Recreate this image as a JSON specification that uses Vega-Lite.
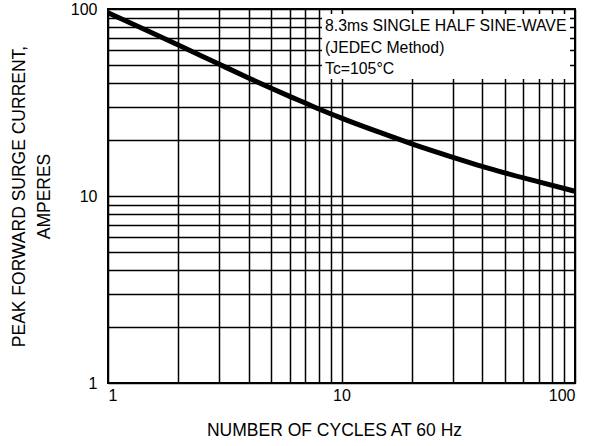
{
  "$schema": "https://vega.github.io/schema/vega-lite/v6.json",
  "width": 467,
  "height": 374,
  "autosize": {"type": "none"},
  "padding": {"left": 108, "top": 9, "right": 24, "bottom": 63},
  "background": "white",
  "config": {
    "view": {"stroke": "black", "strokeWidth": 2},
    "font": "Liberation Sans",
    "axis": {
      "grid": true,
      "gridColor": "black",
      "gridWidth": 1.5,
      "gridOpacity": 1,
      "ticks": false,
      "domain": false,
      "labelFont": "Liberation Sans",
      "labelFontSize": 16,
      "labelColor": "black",
      "titleFont": "Liberation Sans",
      "titleFontSize": 17.5,
      "titleFontWeight": "normal",
      "titleColor": "black",
      "labelOverlap": false
    }
  },
  "data": {
    "values": [
      {"cycles": 1, "current": 95.5},
      {"cycles": 1.5, "current": 75.8},
      {"cycles": 2, "current": 64.2},
      {"cycles": 3, "current": 50.6},
      {"cycles": 4, "current": 42.8},
      {"cycles": 5, "current": 37.7},
      {"cycles": 6, "current": 34.1},
      {"cycles": 7, "current": 31.4},
      {"cycles": 8, "current": 29.2},
      {"cycles": 10, "current": 26.1},
      {"cycles": 15, "current": 21.6},
      {"cycles": 20, "current": 19.0},
      {"cycles": 30, "current": 16.1},
      {"cycles": 40, "current": 14.4},
      {"cycles": 50, "current": 13.3},
      {"cycles": 70, "current": 11.9},
      {"cycles": 100, "current": 10.6}
    ]
  },
  "layer": [
    {
      "data": {"values": [{}]},
      "mark": {"type": "rect", "color": "white", "opacity": 1},
      "encoding": {
        "x": {"datum": 8.25, "type": "quantitative", "scale": {"type": "log", "domain": [1, 100], "nice": false}},
        "x2": {"datum": 95.2},
        "y": {"datum": 94, "type": "quantitative", "scale": {"type": "log", "domain": [1, 100], "nice": false}},
        "y2": {"datum": 42.2}
      }
    },
    {
      "mark": {"type": "line", "color": "black", "strokeWidth": 5, "interpolate": "monotone", "strokeCap": "butt"},
      "encoding": {
        "x": {
          "field": "cycles",
          "type": "quantitative",
          "scale": {"type": "log", "domain": [1, 100], "nice": false},
          "axis": {
            "values": [1, 2, 3, 4, 5, 6, 7, 8, 9, 10, 20, 30, 40, 50, 60, 70, 80, 90, 100],
            "labelExpr": "(datum.value == 1 || datum.value == 10 || datum.value == 100) ? datum.label : ''",
            "labelPadding": 4,
            "title": "NUMBER OF CYCLES AT 60 Hz",
            "titleX": 226,
            "titleY": 47,
            "titleBaseline": "middle",
            "titleAlign": "center"
          }
        },
        "y": {
          "field": "current",
          "type": "quantitative",
          "scale": {"type": "log", "domain": [1, 100], "nice": false},
          "axis": {
            "values": [1, 2, 3, 4, 5, 6, 7, 8, 9, 10, 20, 30, 40, 50, 60, 70, 80, 90, 100],
            "labelExpr": "(datum.value == 1 || datum.value == 10 || datum.value == 100) ? datum.label : ''",
            "labelPadding": 11,
            "title": ["PEAK FORWARD SURGE CURRENT,", "AMPERES"],
            "titleAngle": -90,
            "titleLineHeight": 25,
            "titleX": -98,
            "titleY": 187,
            "titleAlign": "center",
            "titleBaseline": "top"
          }
        }
      }
    },
    {
      "data": {"values": [{}]},
      "mark": {
        "type": "text",
        "align": "left",
        "baseline": "top",
        "fontSize": 15.8,
        "lineHeight": 21.7,
        "color": "black",
        "font": "Liberation Sans"
      },
      "encoding": {
        "x": {"datum": 8.5, "type": "quantitative"},
        "y": {"datum": 88.4, "type": "quantitative"},
        "text": {"value": ["8.3ms SINGLE HALF SINE-WAVE", "(JEDEC Method)", "Tc=105°C"]}
      }
    }
  ]
}
